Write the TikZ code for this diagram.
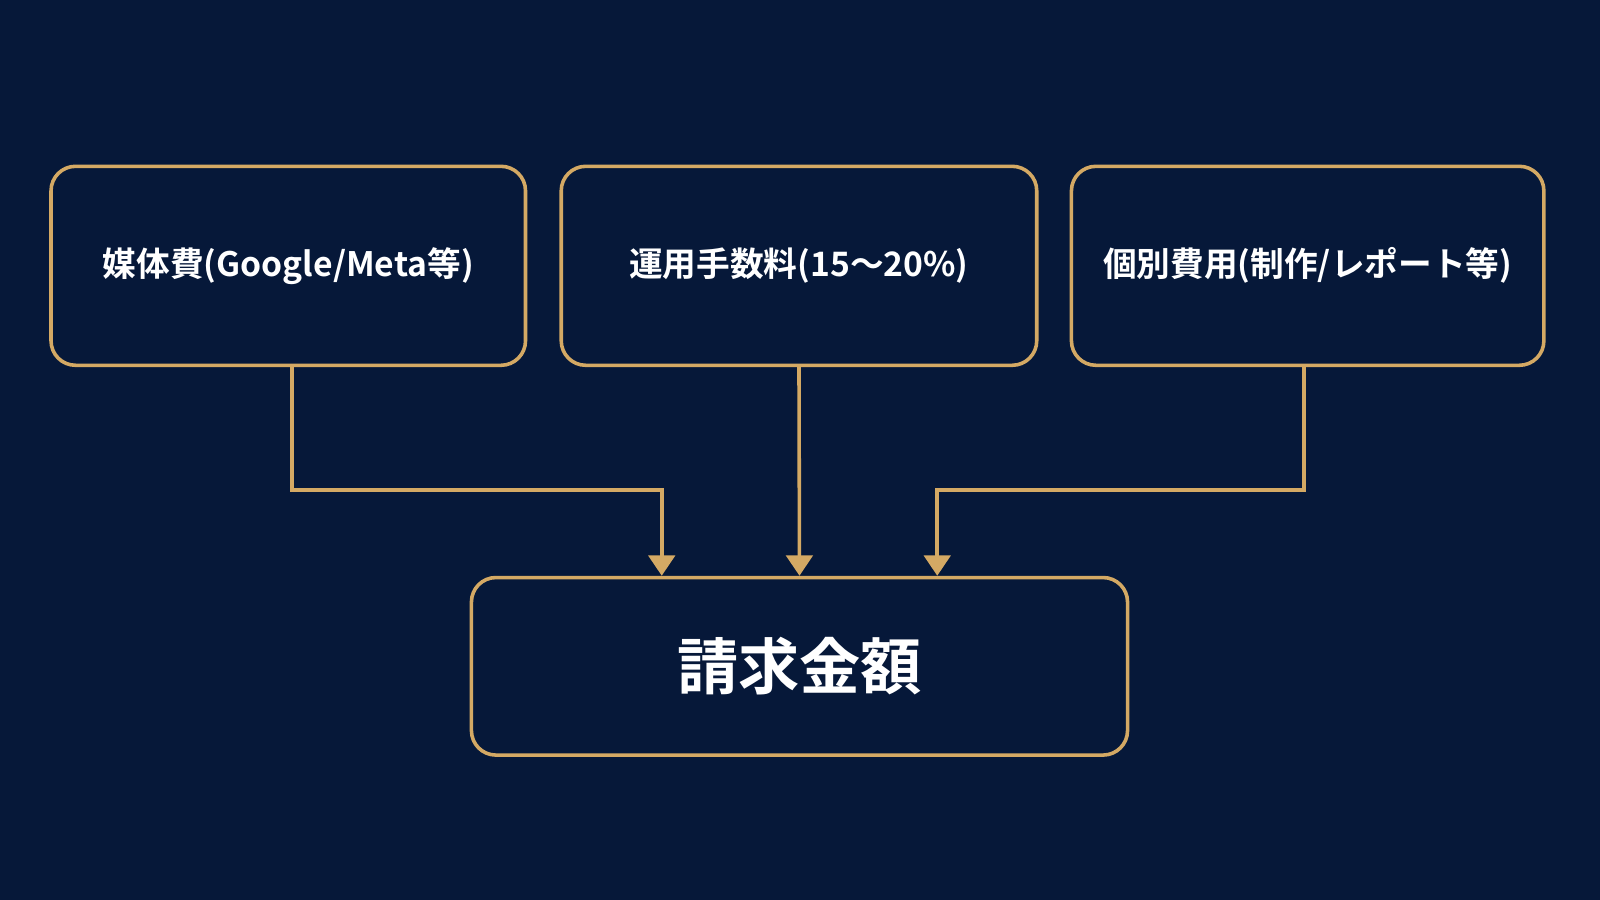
\documentclass[tikz,border=0pt]{standalone}
\usepackage{fontspec}
\setmainfont{Noto Sans CJK JP}[BoldFont={* Bold}]
\usetikzlibrary{arrows.meta}
\definecolor{bg}{HTML}{061839}
\definecolor{gold}{HTML}{D4A964}
\begin{document}
\begin{tikzpicture}[x=1pt,y=1pt,
  box/.style={draw=gold,line width=3.5pt,rounded corners=24pt,fill=bg,text=white,font=\bfseries\fontsize{33}{40}\selectfont,inner sep=0pt},
  con/.style={draw=gold,line width=3.5pt,-{Triangle[length=20pt,width=26pt]}}]
\fill[bg] (0,0) rectangle (1568,882);
\useasboundingbox (0,0) rectangle (1568,882);
\node[box,minimum width=465,minimum height=195] (a) at (282.5,621.5) {媒体費(Google/Meta等)};
\node[box,minimum width=466,minimum height=195] (b) at (783,621.5) {運用手数料(15〜20\%)};
\node[box,minimum width=463,minimum height=195] (c) at (1281.5,621.5) {個別費用(制作/レポート等)};
\node[box,minimum width=643,minimum height=174,font=\bfseries\fontsize{60}{70}\selectfont] (d) at (783.5,229) {請求金額};
\coordinate (a1) at (286,402);
\coordinate (c1) at (1278,402);
\draw[con] (a.south -| a1) -- (a1) -| ([xshift=-135pt]d.north);
\draw[con] (b.south) -- (d.north);
\draw[con] (c.south -| c1) -- (c1) -| ([xshift=135pt]d.north);
\end{tikzpicture}
\end{document}
